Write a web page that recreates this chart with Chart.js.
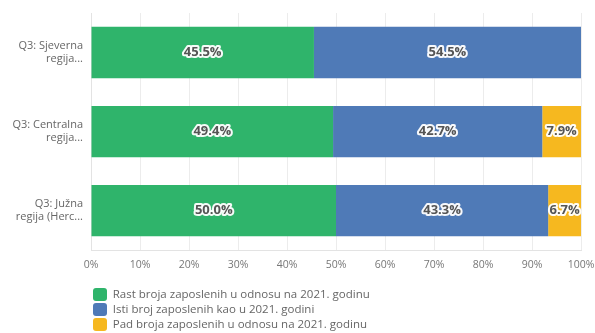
<!DOCTYPE html>
<html>
<head>
<meta charset="utf-8">
<script src="https://cdn.jsdelivr.net/npm/chart.js@4"></script>
<style>
  html, body { margin: 0; padding: 0; background: #fff; }
  #wrap { width: 595px; height: 333px; position: relative; }
</style>
</head>
<body>
<div id="wrap"><canvas id="chart"></canvas></div>
<script>
// regions and answer shares (%)
const regions = [
    ["Q3: Sjeverna", "regija..."],
    ["Q3: Centralna", "regija..."],
    ["Q3: Južna", "regija (Herc..."]
];
const seriesNames = [
    "Rast broja zaposlenih u odnosu na 2021. godinu",
    "Isti broj zaposlenih kao u 2021. godini",
    "Pad broja zaposlenih u odnosu na 2021. godinu"
];
const rastValues = [45.5, 49.4, 50.0];
const istiValues = [54.5, 42.7, 43.3];
const padValues = [null, 7.9, 6.7];
const seriesColors = ["#2fb46b", "#4f7ab7", "#f6b81f"];

const FONT = "'Open Sans', sans-serif";

// value text in the middle of each segment, white halo behind dark text
const barLabels = {
    id: "barLabels",
    afterDatasetsDraw(chart) {
        const ctx = chart.ctx;
        ctx.save();
        ctx.font = "bold 13px " + FONT;
        ctx.textAlign = "center";
        ctx.textBaseline = "middle";
        ctx.lineJoin = "round";
        chart.data.datasets.forEach((ds, i) => {
            const meta = chart.getDatasetMeta(i);
            meta.data.forEach((bar, j) => {
                const v = ds.data[j];
                if (v == null) return;
                const txt = v.toFixed(1) + "%";
                const x = (bar.x + bar.base) / 2;
                const y = bar.y;
                ctx.lineWidth = 4;
                ctx.strokeStyle = "rgba(255,255,255,0.95)";
                ctx.strokeText(txt, x, y);
                ctx.fillStyle = "#555";
                ctx.fillText(txt, x, y);
            });
        });
        ctx.restore();
    }
};

// keep the legend narrow so every series sits on its own line
const legendColumn = {
    id: "legendColumn",
    beforeLayout(chart) {
        const lg = chart.legend;
        if (lg && !lg._narrow) {
            const update = lg.update.bind(lg);
            lg.update = (w, h, m) => update(Math.min(w, 320), h, m);
            lg._narrow = true;
        }
    }
};

const datasets = [rastValues, istiValues, padValues].map((vals, i) => ({
    label: seriesNames[i],
    data: vals,
    backgroundColor: seriesColors[i],
    borderWidth: 0,
    barPercentage: 0.65,
    categoryPercentage: 1
}));

new Chart(document.getElementById("chart"), {
    type: "bar",
    data: { labels: regions, datasets: datasets },
    plugins: [barLabels, legendColumn],
    options: {
        indexAxis: "y",
        responsive: true,
        maintainAspectRatio: false,
        animation: false,
        layout: { padding: { top: 13, right: 0, left: 0, bottom: -8 } },
        scales: {
            x: {
                stacked: true,
                min: 0,
                max: 100,
                ticks: {
                    stepSize: 10,
                    color: "#777",
                    font: { size: 10.5, family: FONT },
                    padding: 9,
                    callback: v => v + "%"
                },
                grid: { color: "#ececec", drawTicks: false },
                border: { color: "#e3e3e3" },
                afterFit(scale) {
                    scale.paddingLeft = 0;
                    scale.paddingRight = 14;
                }
            },
            y: {
                stacked: true,
                ticks: {
                    color: "#666",
                    font: { size: 11, family: FONT },
                    padding: 8
                },
                grid: { display: false, drawTicks: false },
                border: { color: "#e3e3e3" },
                afterFit(scale) {
                    scale.width = 91;
                    scale.paddingTop = 0;
                    scale.paddingBottom = 0;
                }
            }
        },
        plugins: {
            legend: {
                position: "bottom",
                align: "start",
                fullSize: false,
                title: { display: true, text: " ", font: { size: 1 }, padding: { top: 0, bottom: 4 } },
                labels: {
                    boxWidth: 14,
                    boxHeight: 13,
                    padding: 2,
                    color: "#666",
                    font: { size: 11.5, family: FONT },
                    useBorderRadius: true,
                    borderRadius: 3
                }
            },
            tooltip: { enabled: false }
        }
    }
});
</script>
</body>
</html>
